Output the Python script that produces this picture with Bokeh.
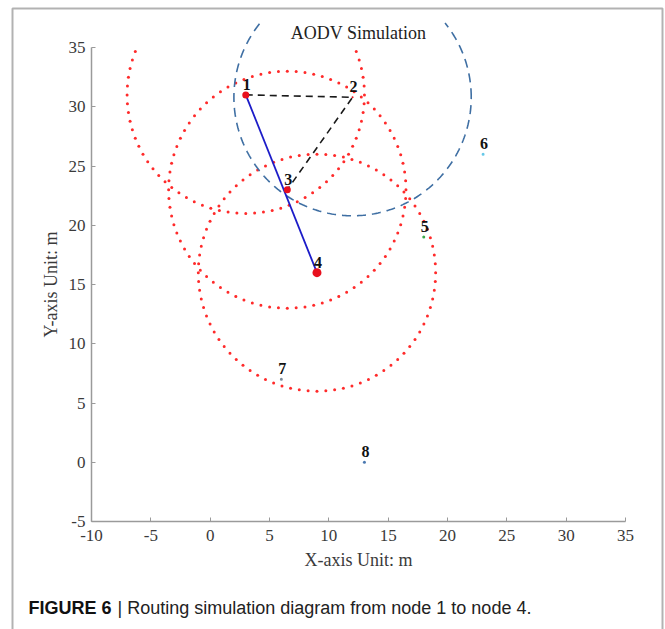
import numpy as np
from bokeh.plotting import figure
from bokeh.models import (Label, LabelSet, BoxAnnotation, FixedTicker, Range1d,
                          ColumnDataSource, PrintfTickFormatter)
from bokeh.core.properties import value
from bokeh.embed import file_html
from bokeh.resources import INLINE

# ---- data ----
node_ids = ["1", "2", "3", "4", "5", "6", "7", "8"]
node_x = [3, 12, 6.5, 9, 18, 23, 6, 13]
node_y = [31, 30.8, 23, 16, 19, 26, 7, 0]
node_colors = ["#e8101e", "#e8101e", "#e8101e", "#e8101e", "#3aa84a", "#66c8e8", "#7a8a99", "#4a78b0"]
node_sizes = [7, 2, 7, 9, 3, 3, 3, 3]

coverage_nodes = [0, 2, 3]     # red dotted range circles: nodes 1, 3, 4
broadcast_node = 1             # blue dashed range circle: node 2
radius = 10

route_path = [0, 3]            # node 1 -> node 4
discovery_path = [0, 1, 2]     # node 1 -> node 2 -> node 3

x_lim = (-10, 35)
y_lim = (-5, 35)
x_ticks = list(range(-10, 40, 5))
y_ticks = list(range(-5, 40, 5))

title_text = "AODV Simulation"
x_label = "X-axis Unit: m"
y_label = "Y-axis Unit: m"
caption_bold = "FIGURE 6"
caption_text = "| Routing simulation diagram from node 1 to node 4."

# ---- layout geometry (pixels) ----
W, H = 665, 629
AX_L, AX_R, AX_B, AX_T = 91, 625, 521, 47
kx = (AX_R - AX_L) / (x_lim[1] - x_lim[0])
ky = (AX_B - AX_T) / (y_lim[1] - y_lim[0])
x_range = Range1d(x_lim[0] - AX_L / kx, x_lim[1] + (W - AX_R) / kx)
y_range = Range1d(y_lim[0] - (H - AX_B) / ky, y_lim[1] + AX_T / ky)

SERIF = "Liberation Serif"
SANS = "Liberation Sans"

p = figure(width=W, height=H, output_backend="svg", toolbar_location=None,
           x_range=x_range, y_range=y_range,
           min_border_left=0, min_border_right=0, min_border_top=0, min_border_bottom=0)
p.outline_line_color = None
p.grid.grid_line_color = None
p.background_fill_color = "white"
p.border_fill_color = "white"

for ax, ticks, bounds in ((p.xaxis[0], x_ticks, x_lim), (p.yaxis[0], y_ticks, y_lim)):
    ax.ticker = FixedTicker(ticks=ticks)
    ax.formatter = PrintfTickFormatter(format="%d")
    ax.bounds = bounds
    ax.axis_line_color = "#9a9a9a"
    ax.axis_line_width = 1.5
    ax.major_tick_line_color = "#9a9a9a"
    ax.major_tick_in = 4
    ax.major_tick_out = 0
    ax.minor_tick_line_color = None
    ax.major_label_text_font = SERIF
    ax.major_label_text_font_size = "17px"
    ax.major_label_text_color = "#3a3a3a"
    ax.axis_label_text_font = SERIF
    ax.axis_label_text_font_size = "18px"
    ax.axis_label_text_font_style = "normal"
    ax.axis_label_text_color = "#3a3a3a"

p.xaxis.fixed_location = y_lim[0]
p.yaxis.fixed_location = x_lim[0]
p.xaxis.axis_label = x_label
p.yaxis.axis_label = y_label
p.xaxis.major_label_standoff = 8
p.xaxis.axis_label_standoff = 6
p.yaxis.major_label_standoff = 6
p.yaxis.axis_label_standoff = 5

# range circles (red dotted, kept inside the axes box)
theta = np.linspace(0, 2 * np.pi, 84, endpoint=False)
for i in coverage_nodes:
    cx = node_x[i] + radius * np.cos(theta)
    cy = node_y[i] + radius * np.sin(theta)
    keep = cy <= y_lim[1] + 0.2
    p.scatter(cx[keep], cy[keep], size=3, color="#ff2a2a", line_color=None)

# broadcast range of node 2 (blue dashed)
tt = np.linspace(0, 2 * np.pi, 400)
bx = node_x[broadcast_node] + radius * np.cos(tt)
by = node_y[broadcast_node] + radius * np.sin(tt)
by = np.where(by <= y_lim[1] + 2.1, by, np.nan)
p.line(bx, by, line_color="#3f6fa3", line_width=1.6, line_dash="9 6")

# paths
p.line([node_x[i] for i in discovery_path], [node_y[i] for i in discovery_path],
       line_color="#1a1a1a", line_width=1.6, line_dash="7 5")
p.line([node_x[i] for i in route_path], [node_y[i] for i in route_path],
       line_color="#1c1cc8", line_width=1.8)

# nodes
src = ColumnDataSource(dict(x=node_x, y=node_y, c=node_colors, s=node_sizes, t=node_ids))
p.scatter("x", "y", size="s", color="c", line_color=None, source=src)
p.add_layout(LabelSet(x="x", y="y", text="t", source=src, y_offset=5, x_offset=1,
                      text_align="center", text_baseline="bottom",
                      text_font=value(SERIF), text_font_style="bold",
                      text_font_size="16px", text_color="#111111"))

# title
p.add_layout(Label(x=(x_lim[0] + x_lim[1]) / 2, y=y_lim[1] + 1.2, text=title_text,
                   text_align="center", text_baseline="middle", text_font=SERIF,
                   text_font_size="18px", text_color="#222222"))

# caption
p.add_layout(Label(x=28, y=607, x_units="canvas", y_units="canvas", text=caption_bold,
                   text_baseline="middle", text_font=SANS, text_font_style="bold",
                   text_font_size="18px", text_color="#111111"))
p.add_layout(Label(x=117, y=607, x_units="canvas", y_units="canvas", text=caption_text,
                   text_baseline="middle", text_font=SANS,
                   text_font_size="18px", text_color="#222222"))

# outer frame
p.add_layout(BoxAnnotation(left=12, right=662, top=8, bottom=640,
                           left_units="canvas", right_units="canvas",
                           bottom_units="canvas", top_units="canvas",
                           fill_alpha=0, line_color="black", line_width=2))

open("out.html", "w").write(file_html(p, INLINE))
